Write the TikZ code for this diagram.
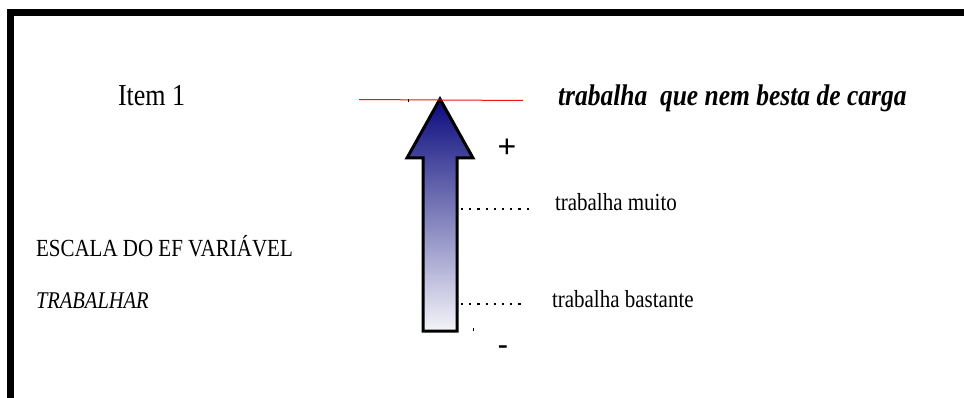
\documentclass[tikz,border=0pt]{standalone}
\usepackage{fontspec}
\setmainfont{Liberation Serif}
\newfontfamily\arialfont{Liberation Sans}
\definecolor{navytop}{RGB}{10,10,125}
\definecolor{navybot}{RGB}{244,244,250}
\definecolor{redline}{RGB}{240,20,20}
\newcommand{\vstr}[1]{\scalebox{1}[1.17]{#1}}
\tikzset{
  lbl/.style={anchor=base west, inner sep=0pt, outer sep=0pt},
  bigtxt/.style={lbl, font=\fontsize{26}{28}\selectfont},
  midtxt/.style={lbl, font=\fontsize{21}{24}\selectfont},
  sign/.style={anchor=base, inner sep=0pt, outer sep=0pt, font=\arialfont\fontsize{32}{34}\selectfont},
  frameline/.style={line width=7pt, line cap=rect},
  dotline/.style={line width=2.2pt, dash pattern=on 2.2pt off 6pt},
  tick/.style={line width=0.8pt}
}
\begin{document}
\begin{tikzpicture}[x=1pt, y=-1pt]
\useasboundingbox (0,0) rectangle (964,398);
\fill[white] (0,0) rectangle (964,398);
% frame
\coordinate (fTL) at (10.5,12.5);
\coordinate (fTR) at (970,12.5);
\coordinate (fBL) at (10.5,405);
\draw[frameline] (fBL) -- (fTL) -- (fTR);
% arrow
\coordinate (tip) at (440,99);
\draw[line width=3pt, line join=miter, top color=navytop, bottom color=navybot]
  (tip) -- (473,158) -- (457,158) -- (457,331) -- (423,331) -- (423,158) -- (407,158) -- cycle;
% red line
\coordinate (rL) at (359,99.5);
\coordinate (rR) at (523,100.5);
\draw[redline, line width=1pt] (rL) -- (rR);
% tiny ticks
\coordinate (t1a) at (408,99); \coordinate (t1b) at (408,102);
\draw[tick] (t1a) -- (t1b);
\coordinate (t2a) at (473,328); \coordinate (t2b) at (473,331);
\draw[tick] (t2a) -- (t2b);
% dotted lines
\coordinate (d1a) at (461,209); \coordinate (d1b) at (529,209);
\draw[dotline] (d1a) -- (d1b);
\coordinate (d2a) at (461,304); \coordinate (d2b) at (525,304);
\draw[dotline] (d2a) -- (d2b);
% texts
\node[bigtxt] (item) at (118,106) {\vstr{Item 1}};
\node[bigtxt, font=\fontsize{25.5}{28}\selectfont\bfseries\itshape] (top) at (558,106) {\vstr{trabalha\ \ que nem besta de carga}};
\node[midtxt] (muito) at (555,211) {\vstr{trabalha muito}};
\node[midtxt] (bast) at (552,307) {\vstr{trabalha bastante}};
\node[midtxt] (escala) at (36,257) {\vstr{ESCALA DO EF VARIÁVEL}};
\node[midtxt, font=\fontsize{20.5}{24}\selectfont\itshape] (trab) at (36,308) {\vstr{TRABALHAR}};
\node[sign] (plus) at (507,158) {+};
\node[sign] (minus) at (503,355) {-};
\end{tikzpicture}
\end{document}
